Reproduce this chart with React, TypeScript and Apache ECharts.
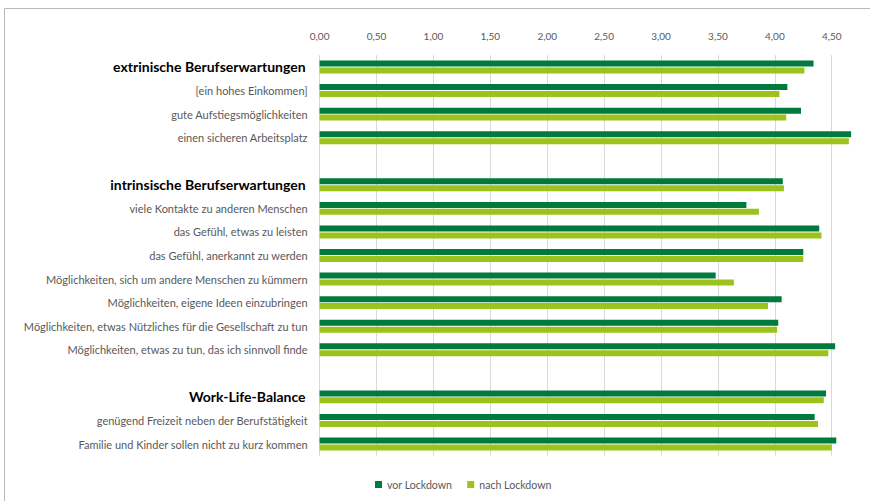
import React, { useEffect, useRef } from "react";
import * as echarts from "echarts";

const categories = [
  "extrinische Berufserwartungen",
  "[ein hohes Einkommen]",
  "gute Aufstiegsmöglichkeiten",
  "einen sicheren Arbeitsplatz",
  "",
  "intrinsische Berufserwartungen",
  "viele Kontakte zu anderen Menschen",
  "das Gefühl, etwas zu leisten",
  "das Gefühl, anerkannt zu werden",
  "Möglichkeiten, sich um andere Menschen zu kümmern",
  "Möglichkeiten, eigene Ideen einzubringen",
  "Möglichkeiten, etwas Nützliches für die Gesellschaft zu tun",
  "Möglichkeiten, etwas zu tun, das ich sinnvoll finde",
  " ",
  "Work-Life-Balance",
  "genügend Freizeit neben der Berufstätigkeit",
  "Familie und Kinder sollen nicht zu kurz kommen",
];

const headings = [
  "extrinische Berufserwartungen",
  "intrinsische Berufserwartungen",
  "Work-Life-Balance",
];

const vorLockdown = [4.34, 4.11, 4.23, 4.67, null, 4.07, 3.75, 4.39, 4.25, 3.48, 4.06, 4.03, 4.53, null, 4.45, 4.35, 4.54];
const nachLockdown = [4.26, 4.04, 4.10, 4.65, null, 4.08, 3.86, 4.41, 4.25, 3.64, 3.94, 4.02, 4.47, null, 4.43, 4.38, 4.50];

const seriesNames = ["vor Lockdown", "nach Lockdown"];
const xMax = 4.7;
const xInterval = 0.5;

export default function App() {
  const ref = useRef<HTMLDivElement>(null);
  useEffect(() => {
    if (!ref.current) return;
    const chart = echarts.init(ref.current, undefined, { renderer: "svg" });
    const font = "Lato";
    chart.setOption({
      animation: false,
      textStyle: { fontFamily: font },
      grid: { left: 319.6, right: 15.5, top: 55.2, bottom: 45.2, containLabel: false },
      legend: {
        data: seriesNames,
        top: 474,
        left: 370,
        itemWidth: 7,
        itemHeight: 7,
        itemGap: 15,
        icon: "rect",
        textStyle: { fontSize: 10.6, color: "#595959", fontFamily: font },
      },
      xAxis: {
        type: "value",
        position: "top",
        min: 0,
        max: xMax,
        interval: xInterval,
        axisLine: { show: false },
        axisTick: { show: false },
        axisLabel: {
          showMaxLabel: false,
          margin: 14,
          fontSize: 10,
          color: "#595959",
          fontFamily: font,
          formatter: (v: number) => v.toFixed(2).replace(".", ","),
        },
        splitLine: { show: true, showMaxLine: false, lineStyle: { color: "#d9d9d9", width: 1 } },
      },
      yAxis: {
        type: "category",
        data: categories,
        inverse: true,
        axisLine: { show: false },
        axisTick: { show: false },
        axisLabel: {
          margin: 12,
          interval: 0,
          fontSize: 11,
          color: "#595959",
          fontFamily: font,
          formatter: (v: string) => (headings.includes(v) ? `{h|${v}}` : v),
          rich: {
            h: { fontSize: 14, fontWeight: "bold", color: "#000000", fontFamily: font, padding: [0, 2, 0, 0] },
          },
        },
      },
      series: [
        {
          name: seriesNames[0],
          type: "bar",
          data: vorLockdown,
          barWidth: 6,
          barGap: "15%",
          itemStyle: { color: "#007a3d" },
        },
        {
          name: seriesNames[1],
          type: "bar",
          data: nachLockdown,
          barWidth: 6,
          barGap: "15%",
          itemStyle: { color: "#9cc31b" },
        },
      ],
      graphic: [
        { type: "line", shape: { x1: 4.5, y1: 8.5, x2: 870, y2: 8.5 }, style: { stroke: "#b8b8b8", lineWidth: 1 } },
        { type: "line", shape: { x1: 4.5, y1: 8.5, x2: 4.5, y2: 501 }, style: { stroke: "#b8b8b8", lineWidth: 1 } },
      ],
    });
    return () => chart.dispose();
  }, []);
  return (
    <div
      ref={ref}
      style={{ position: "fixed", left: 0, top: 0, width: 870, height: 501, background: "#ffffff" }}
    />
  );
}
